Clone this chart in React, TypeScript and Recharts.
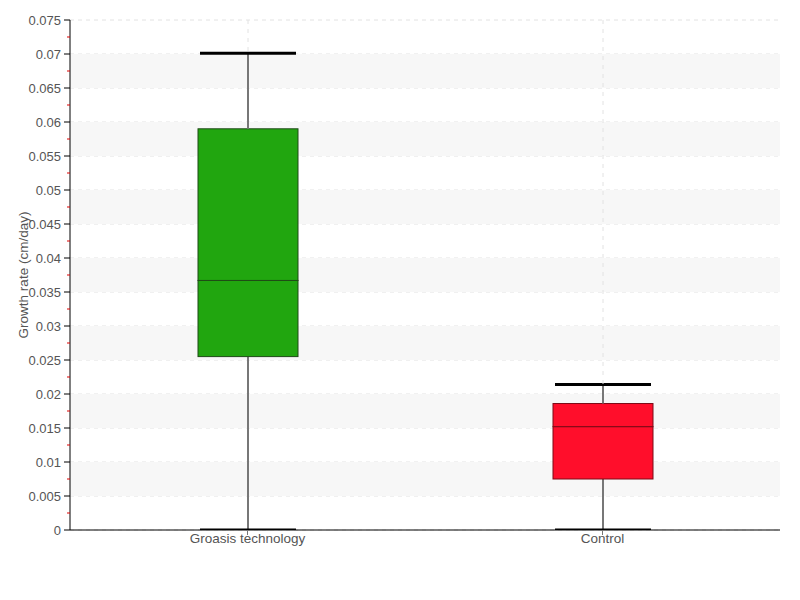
import {
  ComposedChart,
  Bar,
  XAxis,
  YAxis,
  CartesianGrid,
  ReferenceArea
} from 'recharts';

// box plot values
const groups = ['Groasis technology', 'Control'];
const whiskerLow = [0, 0];
const q1 = [0.0255, 0.0075];
const median = [0.0367, 0.0152];
const q3 = [0.059, 0.0186];
const whiskerHigh = [0.0701, 0.0214];

const boxFill = ['#21a60f', '#ff0e2b'];
const boxEdge = ['#1f4a17', '#7d0a17'];

const Y_MAX = 0.075;
const majorTicks = [0, 0.005, 0.01, 0.015, 0.02, 0.025, 0.03, 0.035, 0.04, 0.045, 0.05, 0.055, 0.06, 0.065, 0.07, 0.075];
const minorTicks = [0.0025, 0.0075, 0.0125, 0.0175, 0.0225, 0.0275, 0.0325, 0.0375, 0.0425, 0.0475, 0.0525, 0.0575, 0.0625, 0.0675, 0.0725];
const shadedBands = [[0.005, 0.01], [0.015, 0.02], [0.025, 0.03], [0.035, 0.04], [0.045, 0.05], [0.055, 0.06], [0.065, 0.07]];

const FONT = "'Liberation Sans', Arial, sans-serif";
const GRID = '#e2e2e2';

const data = groups.map((name, i) => ({
  name,
  idx: i,
  base: whiskerLow[i],
  lower: q1[i] - whiskerLow[i],
  boxLow: median[i] - q1[i],
  boxHigh: q3[i] - median[i],
  upper: whiskerHigh[i] - q3[i],
  gap: Y_MAX - whiskerHigh[i]
}));

const allTicks = [...majorTicks, ...minorTicks].sort((a, b) => a - b);

const YTick = (props: any) => {
  const { x, y, payload } = props;
  const v = payload.value;
  const isMajor = majorTicks.some((m) => Math.abs(m - v) < 1e-9);
  const axisX = x + 8;
  if (!isMajor) {
    return <line x1={axisX - 3} x2={axisX} y1={y} y2={y} stroke="#d00" strokeWidth={1} />;
  }
  return (
    <g>
      <line x1={axisX - 6} x2={axisX} y1={y} y2={y} stroke="#000" strokeWidth={1} />
      <text x={x - 1} y={y} dy={5} textAnchor="end" fill="#555" fontSize={13} fontFamily={FONT}>
        {String(v)}
      </text>
    </g>
  );
};

const XTick = (props: any) => {
  const { x, y, payload } = props;
  return (
    <text x={x} y={y} dy={8} textAnchor="middle" fill="#555" fontSize={13.5} fontFamily={FONT}>
      {payload.value}
    </text>
  );
};

const Whisker = (top: boolean) => (props: any) => {
  const { x, y, width, height } = props;
  if (x == null || y == null) return null;
  const cx = x + width / 2;
  const capY = top ? y : y + height;
  return (
    <g>
      <line x1={cx} x2={cx} y1={y} y2={y + height} stroke="#777" strokeWidth={2} />
      <line x1={x + 2} x2={x + width - 2} y1={capY} y2={capY} stroke="#000" strokeWidth={3} />
    </g>
  );
};

// the dashed vertical grid line above each whisker
const GridGap = (props: any) => {
  const { x, y, width, height } = props;
  if (x == null || y == null) return null;
  const cx = x + width / 2;
  return <line x1={cx} x2={cx} y1={y} y2={y + height} stroke={GRID} strokeDasharray="4 5" />;
};

const BoxPart = (props: any) => {
  const { x, y, width, height, payload } = props;
  if (x == null || y == null) return null;
  const i = payload.idx;
  return <rect x={x} y={y} width={width} height={height} fill={boxFill[i]} stroke={boxEdge[i]} strokeWidth={1} />;
};

const YLabel = (props: any) => {
  const { viewBox } = props;
  const cy = viewBox.y + viewBox.height / 2;
  return (
    <text x={23} y={cy} textAnchor="middle" dominantBaseline="central" transform={`rotate(-90, 23, ${cy})`} fill="#555" fontSize={13.5} fontFamily={FONT}>
      Growth rate (cm/day)
    </text>
  );
};

export default function App() {
  return (
    <div style={{ position: 'absolute', left: 0, top: 0, background: '#fff' }}>
      <ComposedChart
        width={800}
        height={600}
        data={data}
        margin={{ top: 20, right: 20, bottom: 40, left: 0 }}
        barCategoryGap="0%"
      >
        {shadedBands.map(([a, b]) => (
          <ReferenceArea key={a} y1={a} y2={b} fill="#f7f7f7" fillOpacity={1} stroke="none" strokeWidth={0} ifOverflow="hidden" />
        ))}
        <CartesianGrid stroke={GRID} strokeDasharray="4 4" vertical={false} horizontalValues={majorTicks} />
        <XAxis
          dataKey="name"
          height={30}
          axisLine={{ stroke: '#000' }}
          tickLine={{ stroke: '#777' }}
          tickSize={5}
          tick={<XTick />}
          tickMargin={0}
        />
        <YAxis
          width={70}
          domain={[0, Y_MAX]}
          ticks={allTicks}
          interval={0}
          allowDataOverflow
          axisLine={{ stroke: '#000' }}
          tickLine={false}
          tickSize={6}
          tickMargin={2}
          tick={<YTick />}
          label={<YLabel />}
        />
        <Bar dataKey="base" stackId="b" barSize={100} fill="none" isAnimationActive={false} shape={() => null} />
        <Bar dataKey="lower" stackId="b" barSize={100} isAnimationActive={false} shape={Whisker(false)} />
        <Bar dataKey="boxLow" stackId="b" barSize={100} isAnimationActive={false} shape={BoxPart} />
        <Bar dataKey="boxHigh" stackId="b" barSize={100} isAnimationActive={false} shape={BoxPart} />
        <Bar dataKey="upper" stackId="b" barSize={100} isAnimationActive={false} shape={Whisker(true)} />
        <Bar dataKey="gap" stackId="b" barSize={100} isAnimationActive={false} shape={GridGap} />
      </ComposedChart>
    </div>
  );
}
